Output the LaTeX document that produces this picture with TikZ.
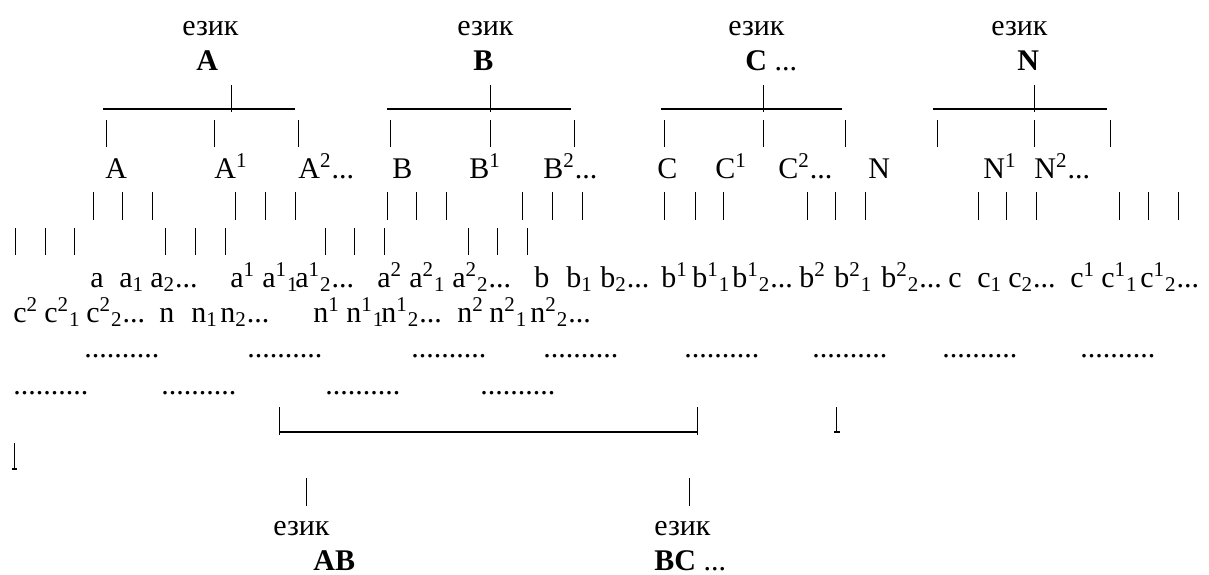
\documentclass[tikz,border=0pt]{standalone}
\usepackage{fontspec}
\setmainfont{Liberation Serif}
\tikzset{
	txt/.style={anchor=base west, inner sep=0pt},
	bar/.style={line width=0.8pt},
	tick/.style={line width=0.5pt},
}
\newcommand{\sps}[1]{\textsuperscript{#1}}
\newcommand{\sbs}[1]{\textsubscript{#1}}
\begin{document}
\begin{tikzpicture}[x=0.5pt, y=-0.5pt, font=\fontsize{15}{18}\selectfont]
		\useasboundingbox (0,0) rectangle (1209,574);

		% idiomas de arriba
		\node[txt] (ezikA) at (182,35) {език};
		\node[txt] (ezikB) at (457,35) {език};
		\node[txt] (ezikC) at (728,35) {език};
		\node[txt] (ezikN) at (991,35) {език};
		\node[txt] (labA) at (196,70) {\textbf{A}};
		\node[txt] (labB) at (473,70) {\textbf{B}};
		\node[txt] (labC) at (745,70) {\textbf{C} ...};
		\node[txt] (labN) at (1017,70) {\textbf{N}};

		% barras con sus palitos
		\draw[bar] (103,109) -- (295,109); % bar A
		\draw[bar] (387,109) -- (571,109); % bar B
		\draw[bar] (661,109) -- (842,109); % bar C
		\draw[bar] (933,109) -- (1107,109); % bar N
		\foreach \x in {231,490,763,1034} \draw[tick] (\x,85) -- (\x,112);
		\foreach \x in {106,214,298,390,490,574,664,763,845,937,1034,1110} \draw[tick] (\x,120) -- (\x,147);

		% dialectos
		\node[txt] (dA) at (105,178) {A};
		\node[txt] (dA1) at (214,178) {A\sps{1}};
		\node[txt] (dA2) at (298,178) {A\sps{2}...};
		\node[txt] (dB) at (392,178) {B};
		\node[txt] (dB1) at (469,178) {B\sps{1}};
		\node[txt] (dB2) at (543,178) {B\sps{2}...};
		\node[txt] (dC) at (657,178) {C};
		\node[txt] (dC1) at (715,178) {C\sps{1}};
		\node[txt] (dC2) at (778,178) {C\sps{2}...};
		\node[txt] (dN) at (868,178) {N};
		\node[txt] (dN1) at (983,178) {N\sps{1}};
		\node[txt] (dN2) at (1034,178) {N\sps{2}...};

		% palitos de las hablas
		\foreach \x in {93,122,152,235,265,295,387,416,446,522,552,582,664,695,723,807,835,865,978,1006,1036,1119,1148,1178} \draw[tick] (\x,192) -- (\x,220);
		\foreach \x in {15,45,74,165,195,225,325,354,384,468,497,527} \draw[tick] (\x,228) -- (\x,255);

		% hablas, primera linea
		\node[txt] (sa) at (90,287) {a};
		\node[txt] (sa1) at (119,287) {a\sbs{1}};
		\node[txt] (sa2) at (150,287) {a\sbs{2}...};
		\node[txt] (sak) at (230,287) {a\sps{1}};
		\node[txt] (sak1) at (262,287) {a\sps{1}\sbs{1}};
		\node[txt] (sak2) at (295,287) {a\sps{1}\sbs{2}...};
		\node[txt] (sal) at (377,287) {a\sps{2}};
		\node[txt] (sal1) at (409,287) {a\sps{2}\sbs{1}};
		\node[txt] (sal2) at (452,287) {a\sps{2}\sbs{2}...};
		\node[txt] (sb) at (534,287) {b};
		\node[txt] (sb1) at (566,287) {b\sbs{1}};
		\node[txt] (sb2) at (600,287) {b\sbs{2}...};
		\node[txt] (sbk) at (661,287) {b\sps{1}};
		\node[txt] (sbk1) at (692,287) {b\sps{1}\sbs{1}};
		\node[txt] (sbk2) at (732,287) {b\sps{1}\sbs{2}...};
		\node[txt] (sbl) at (799,287) {b\sps{2}};
		\node[txt] (sbl1) at (834,287) {b\sps{2}\sbs{1}};
		\node[txt] (sbl2) at (881,287) {b\sps{2}\sbs{2}...};
		\node[txt] (sc) at (948,287) {c};
		\node[txt] (sc1) at (977,287) {c\sbs{1}};
		\node[txt] (sc2) at (1008,287) {c\sbs{2}...};
		\node[txt] (sck) at (1070,287) {c\sps{1}};
		\node[txt] (sck1) at (1101,287) {c\sps{1}\sbs{1}};
		\node[txt] (sck2) at (1140,287) {c\sps{1}\sbs{2}...};

		% hablas, segunda linea
		\node[txt] (scl) at (13,322) {c\sps{2}};
		\node[txt] (scl1) at (44,322) {c\sps{2}\sbs{1}};
		\node[txt] (scl2) at (86,322) {c\sps{2}\sbs{2}...};
		\node[txt] (sn) at (159,322) {n};
		\node[txt] (sn1) at (191,322) {n\sbs{1}};
		\node[txt] (sn2) at (220,322) {n\sbs{2}...};
		\node[txt] (snk) at (313,322) {n\sps{1}};
		\node[txt] (snk1) at (346,322) {n\sps{1}\sbs{1}};
		\node[txt] (snk2) at (381,322) {n\sps{1}\sbs{2}...};
		\node[txt] (snl) at (457,322) {n\sps{2}};
		\node[txt] (snl1) at (489,322) {n\sps{2}\sbs{1}};
		\node[txt] (snl2) at (530,322) {n\sps{2}\sbs{2}...};

		% puntos
		\foreach \x [count=\i] in {84,247,411,543,684,812,942,1080} \node[txt] (pa\i) at (\x,357) {..........};
		\foreach \x [count=\i] in {13,161,325,480} \node[txt] (pb\i) at (\x,394) {..........};

		% barra de abajo
		\draw[bar] (279,432) -- (697,432); % bar AB-BC
		\draw[tick] (279,407) -- (279,435);
		\draw[tick] (697,407) -- (697,435);
		\draw[tick] (836,407) -- (836,433); \draw[bar] (834,432) -- (840,432);
		\draw[tick] (14,443) -- (14,470); \draw[bar] (12,469) -- (17,469);
		\draw[tick] (306,478) -- (306,506);
		\draw[tick] (689,478) -- (689,506);

		% idiomas de abajo
		\node[txt] (ezikAB) at (273,535) {език};
		\node[txt] (labAB) at (313,570) {\textbf{AB}};
		\node[txt] (ezikBC) at (654,535) {език};
		\node[txt] (labBC) at (654,570) {\textbf{BC} ...};
	\end{tikzpicture}
\end{document}
